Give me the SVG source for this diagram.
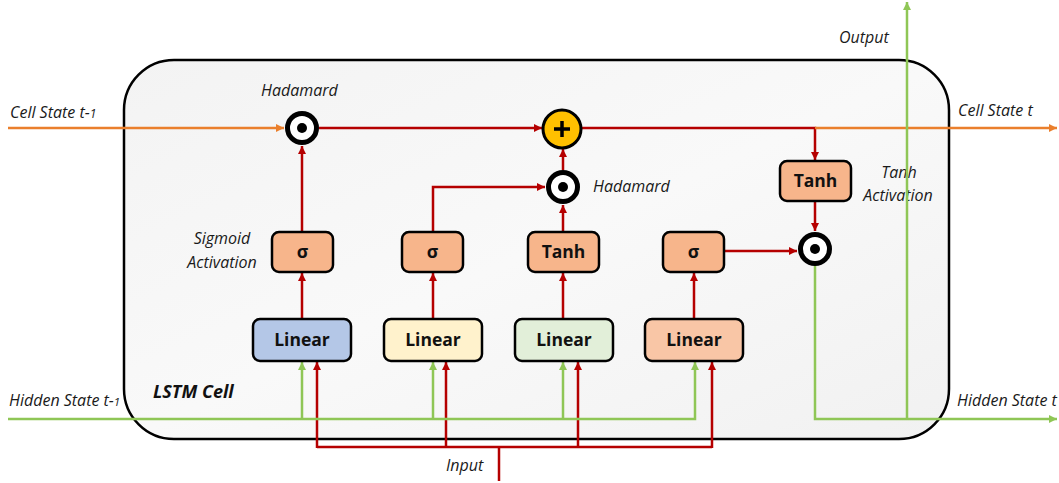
<svg xmlns="http://www.w3.org/2000/svg" width="1059" height="483" viewBox="0 0 1059 483">
  <defs>
    <style>
      .lbl { font-family: "Open Sans", "Liberation Sans", sans-serif; font-style: italic; font-size: 16px; fill: #1a1a1a; }
      .box { stroke: #000; stroke-width: 2.5; }
      .btxt { font-family: "Open Sans", "Liberation Sans", sans-serif; font-weight: bold; font-size: 17.5px; fill: #111; text-anchor: middle; }
      .red { fill: none; stroke: #b50000; stroke-width: 2.5; }
      .grn { fill: none; stroke: #8fc656; stroke-width: 2.5; }
      .org { fill: none; stroke: #ea7f2c; stroke-width: 2.5; }
      .ring { fill: #fff; stroke: #000; stroke-width: 5; }
      .sig { fill: #f7b58b; }
    </style>
    <linearGradient id="cellFill" x1="0" y1="0" x2="1" y2="1">
      <stop offset="0" stop-color="#f3f3f3"/>
      <stop offset="0.5" stop-color="#f9f9f9"/>
      <stop offset="1" stop-color="#f1f1f1"/>
    </linearGradient>
    <marker id="aRed" viewBox="0 0 10 10" refX="10" refY="5" markerWidth="9" markerHeight="8" markerUnits="userSpaceOnUse" orient="auto">
      <path d="M0,0 L10,5 L0,10 Z" fill="#b50000"/>
    </marker>
    <marker id="aGrn" viewBox="0 0 10 10" refX="10" refY="5" markerWidth="9" markerHeight="8" markerUnits="userSpaceOnUse" orient="auto">
      <path d="M0,0 L10,5 L0,10 Z" fill="#8fc656"/>
    </marker>
    <marker id="aOrg" viewBox="0 0 10 10" refX="10" refY="5" markerWidth="9" markerHeight="8" markerUnits="userSpaceOnUse" orient="auto">
      <path d="M0,0 L10,5 L0,10 Z" fill="#ea7f2c"/>
    </marker>
  </defs>

  <rect width="1059" height="483" fill="#fff"/>

  <!-- LSTM cell outline -->
  <g id="cell">
    <rect x="124" y="60" width="825" height="379" rx="50" ry="50" fill="url(#cellFill)" stroke="#000" stroke-width="2.5"/>
    <text x="153" y="398" font-family="Open Sans, Liberation Sans, sans-serif" font-weight="bold" font-style="italic" font-size="18" fill="#111">LSTM Cell</text>
  </g>

  <!-- free labels -->
  <g id="labels">
    <text class="lbl" x="10" y="118" font-size="15">Cell State t-<tspan font-size="12">1</tspan></text>
    <text class="lbl" x="958" y="116" font-size="15">Cell State t</text>
    <text class="lbl" x="9" y="406" font-size="14.5">Hidden State t-<tspan font-size="11.5">1</tspan></text>
    <text class="lbl" x="957" y="406" font-size="14">Hidden State t</text>
    <text class="lbl" x="839" y="43">Output</text>
    <text class="lbl" x="446" y="471">Input</text>
    <text class="lbl" x="261" y="96">Hadamard</text>
    <text class="lbl" x="593" y="192">Hadamard</text>
    <text class="lbl" x="222" y="244" text-anchor="middle">Sigmoid</text>
    <text class="lbl" x="222" y="268" text-anchor="middle">Activation</text>
    <text class="lbl" x="899" y="178" text-anchor="middle">Tanh</text>
    <text class="lbl" x="898" y="201" text-anchor="middle">Activation</text>
  </g>

  <!-- connectors -->
  <g id="connectors">
    <!-- cell state -->
    <path class="org" d="M8,128 H284" marker-end="url(#aOrg)"/>
    <path class="red" d="M319,128 H542" marker-end="url(#aRed)"/>
    <path class="red" d="M582,128 H815 V160" marker-end="url(#aRed)"/>
    <path class="org" d="M815,128 H1057" marker-end="url(#aOrg)"/>
    <path class="red" d="M815,201 V231" marker-end="url(#aRed)"/>

    <!-- gate paths -->
    <path class="red" d="M302,319 V273" marker-end="url(#aRed)"/>
    <path class="red" d="M302,232 V146" marker-end="url(#aRed)"/>
    <path class="red" d="M433,319 V273" marker-end="url(#aRed)"/>
    <path class="red" d="M433,232 V187 H545" marker-end="url(#aRed)"/>
    <path class="red" d="M563,319 V273" marker-end="url(#aRed)"/>
    <path class="red" d="M563,232 V205" marker-end="url(#aRed)"/>
    <path class="red" d="M563,170 V149" marker-end="url(#aRed)"/>
    <path class="red" d="M694,319 V273" marker-end="url(#aRed)"/>
    <path class="red" d="M724,251 H797" marker-end="url(#aRed)"/>

    <!-- input fan-out -->
    <path class="red" d="M499,481 V447"/>
    <path class="red" d="M317,447 H712"/>
    <path class="red" d="M317,448 V362" marker-end="url(#aRed)"/>
    <path class="red" d="M446,448 V362" marker-end="url(#aRed)"/>
    <path class="red" d="M578,448 V362" marker-end="url(#aRed)"/>
    <path class="red" d="M712,448 V362" marker-end="url(#aRed)"/>

    <!-- previous hidden state -->
    <path class="grn" d="M8,419 H695 V362" marker-end="url(#aGrn)"/>
    <path class="grn" d="M302,420 V362" marker-end="url(#aGrn)"/>
    <path class="grn" d="M433,420 V362" marker-end="url(#aGrn)"/>
    <path class="grn" d="M563,420 V362" marker-end="url(#aGrn)"/>

    <!-- new hidden state / output -->
    <path class="grn" d="M815,266 V419 H1057" marker-end="url(#aGrn)"/>
    <path class="grn" d="M907,420 V2" marker-end="url(#aGrn)"/>
  </g>

  <!-- operators -->
  <g id="had1">
    <circle class="ring" cx="302" cy="128" r="14.5"/>
    <circle cx="302" cy="128" r="5" fill="#000"/>
  </g>
  <g id="add">
    <circle cx="562" cy="129" r="19" fill="#ffc000" stroke="#000" stroke-width="3"/>
    <path d="M554,129 H570 M562,121 V137" stroke="#000" stroke-width="3.5"/>
  </g>
  <g id="had2">
    <circle class="ring" cx="563" cy="187" r="14.5"/>
    <circle cx="563" cy="187" r="5" fill="#000"/>
  </g>
  <g id="had3">
    <circle class="ring" cx="815" cy="249" r="14.5"/>
    <circle cx="815" cy="249" r="5" fill="#000"/>
  </g>

  <!-- activations -->
  <g id="sig1">
    <rect class="box sig" x="272" y="232" width="61" height="40" rx="7"/>
    <text class="btxt" x="302.5" y="258" font-size="19">σ</text>
  </g>
  <g id="sig2">
    <rect class="box sig" x="402" y="232" width="61" height="40" rx="7"/>
    <text class="btxt" x="432.5" y="258" font-size="19">σ</text>
  </g>
  <g id="tanh1">
    <rect class="box sig" x="528" y="232" width="71" height="40" rx="7"/>
    <text class="btxt" x="563.5" y="258">Tanh</text>
  </g>
  <g id="sig3">
    <rect class="box sig" x="663" y="232" width="61" height="40" rx="7"/>
    <text class="btxt" x="693.5" y="258" font-size="19">σ</text>
  </g>
  <g id="tanh2">
    <rect class="box sig" x="780" y="161" width="71" height="40" rx="7"/>
    <text class="btxt" x="815.5" y="187">Tanh</text>
  </g>

  <!-- linear layers -->
  <g id="lin1">
    <rect class="box" x="253" y="319" width="98" height="42" rx="7" fill="#b4c7e7"/>
    <text class="btxt" x="302" y="346">Linear</text>
  </g>
  <g id="lin2">
    <rect class="box" x="384" y="319" width="98" height="42" rx="7" fill="#fff2cc"/>
    <text class="btxt" x="433" y="346">Linear</text>
  </g>
  <g id="lin3">
    <rect class="box" x="515" y="319" width="98" height="42" rx="7" fill="#e2efd9"/>
    <text class="btxt" x="564" y="346">Linear</text>
  </g>
  <g id="lin4">
    <rect class="box" x="645" y="319" width="98" height="42" rx="7" fill="#f9c6a6"/>
    <text class="btxt" x="694" y="346">Linear</text>
  </g>
</svg>
